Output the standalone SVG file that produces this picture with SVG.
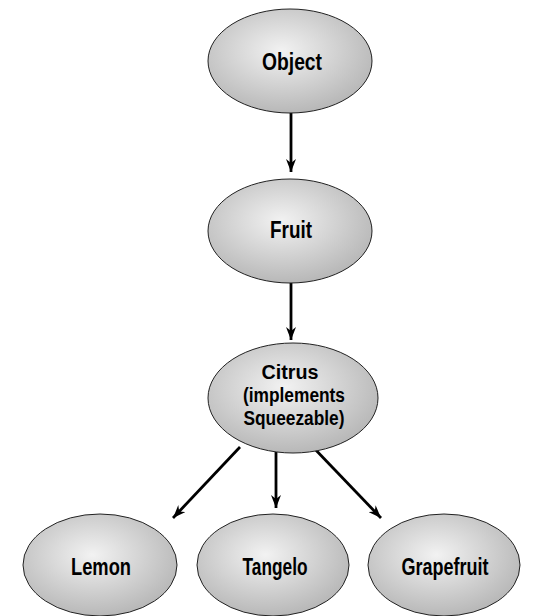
<svg xmlns="http://www.w3.org/2000/svg" width="556" height="616" viewBox="0 0 556 616">
<defs>
<radialGradient id="g" cx="0.45" cy="0.4" r="0.6">
<stop offset="0" stop-color="#f2f2f2"/>
<stop offset="1" stop-color="#b8b8b8"/>
</radialGradient>
<marker id="ah" viewBox="0 0 13 10" refX="13" refY="5" markerWidth="13" markerHeight="10" markerUnits="userSpaceOnUse" orient="auto">
<path d="M0,0 L13,5 L0,10 L4,5 Z" fill="#000"/>
</marker>
</defs>
<style>
.n{fill:url(#g);stroke:#222;stroke-width:1}
.t{font-family:"Liberation Sans",Arial,sans-serif;font-weight:bold;font-size:24px;fill:#000;text-anchor:middle}
.s{font-size:20px}
.c{stroke:#000;stroke-width:2.8;fill:none;marker-end:url(#ah)}
</style>
<rect width="556" height="616" fill="#fff"/>
<g id="connectors">
<line class="c" x1="291" y1="113" x2="291" y2="172"/>
<line class="c" x1="291" y1="283" x2="291" y2="340"/>
<line class="c" x1="240" y1="447" x2="173" y2="518"/>
<line class="c" x1="276" y1="452" x2="276" y2="508"/>
<line class="c" x1="311" y1="445" x2="381" y2="518"/>
</g>
<g id="object">
<ellipse class="n" cx="290" cy="61" rx="82" ry="52"/>
<text class="t" x="292" y="70" textLength="60" lengthAdjust="spacingAndGlyphs">Object</text>
</g>
<g id="fruit">
<ellipse class="n" cx="290" cy="231" rx="82" ry="52"/>
<text class="t" x="291" y="238" textLength="42" lengthAdjust="spacingAndGlyphs">Fruit</text>
</g>
<g id="citrus">
<ellipse class="n" cx="293" cy="398" rx="85" ry="55"/>
<text class="t s" x="290" y="379" textLength="57" lengthAdjust="spacingAndGlyphs">Citrus</text>
<text class="t s" x="294" y="402" textLength="102" lengthAdjust="spacingAndGlyphs">(implements</text>
<text class="t s" x="294" y="425" textLength="101" lengthAdjust="spacingAndGlyphs">Squeezable)</text>
</g>
<g id="lemon">
<ellipse class="n" cx="100" cy="565" rx="77" ry="51"/>
<text class="t" x="101" y="575" textLength="60" lengthAdjust="spacingAndGlyphs">Lemon</text>
</g>
<g id="tangelo">
<ellipse class="n" cx="273" cy="565" rx="76" ry="51"/>
<text class="t" x="275" y="575" textLength="65" lengthAdjust="spacingAndGlyphs">Tangelo</text>
</g>
<g id="grapefruit">
<ellipse class="n" cx="444" cy="565" rx="76" ry="51"/>
<text class="t" x="445" y="575" textLength="87" lengthAdjust="spacingAndGlyphs">Grapefruit</text>
</g>
</svg>
